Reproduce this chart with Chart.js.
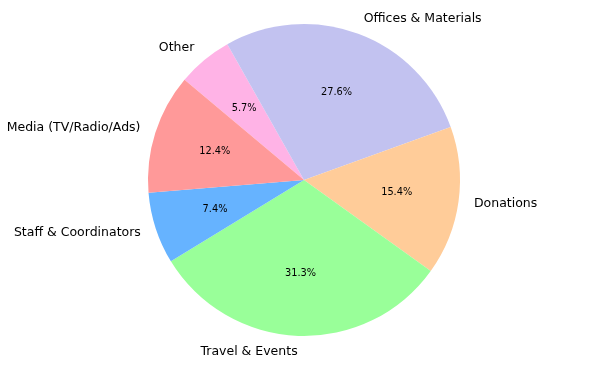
<!DOCTYPE html>
<html>
<head>
<meta charset="utf-8">
<script src="https://cdn.jsdelivr.net/npm/chart.js@4"></script>
<style>
html,body{margin:0;padding:0;background:#fff;}
#wrap{width:600px;height:365px;position:relative;}
</style>
</head>
<body>
<div id="wrap"><canvas id="c" width="600" height="365"></canvas></div>
<script>
// Data (matplotlib order, counter-clockwise from 140°)
const categories = ["Media (TV/Radio/Ads)", "Staff & Coordinators", "Travel & Events", "Donations", "Offices & Materials", "Other"];
const values = [12.4, 7.4, 31.3, 15.4, 27.6, 5.7];
const colors = ["#ff9999", "#66b3ff", "#99ff99", "#ffcc99", "#c2c2f0", "#ffb3e6"];

// Chart.js draws clockwise, so reverse the order
const cjLabels = categories.slice().reverse();
const cjValues = values.slice().reverse();
const cjColors = colors.slice().reverse();

const labelPlugin = {
  id: 'pieLabels',
  afterDatasetsDraw(chart) {
    const ctx = chart.ctx;
    const meta = chart.getDatasetMeta(0);
    meta.data.forEach((arc, i) => {
      const p = arc.getProps(['x', 'y', 'startAngle', 'endAngle', 'outerRadius'], true);
      const mid = (p.startAngle + p.endAngle) / 2;
      const cx = Math.cos(mid), cy = Math.sin(mid);
      ctx.save();
      ctx.fillStyle = '#000';
      ctx.font = '12.5px "DejaVu Sans"';
      ctx.textBaseline = 'middle';
      ctx.textAlign = cx >= 0 ? 'left' : 'right';
      ctx.fillText(cjLabels[i], p.x + cx * p.outerRadius * 1.1, p.y + cy * p.outerRadius * 1.1);
      ctx.font = '9.8px "DejaVu Sans"';
      ctx.textAlign = 'center';
      const pct = cjValues[i].toFixed(1) + '%';
      ctx.fillText(pct, p.x + cx * p.outerRadius * 0.6, p.y + cy * p.outerRadius * 0.6);
      ctx.restore();
    });
  }
};

new Chart(document.getElementById('c'), {
  type: 'pie',
  data: {
    labels: cjLabels,
    datasets: [{
      data: cjValues,
      backgroundColor: cjColors,
      borderWidth: 0
    }]
  },
  options: {
    responsive: false,
    animation: false,
    rotation: -50,
    layout: { padding: { left: 148, right: 140, top: 24, bottom: 29 } },
    plugins: {
      legend: { display: false },
      tooltip: { enabled: false }
    }
  },
  plugins: [labelPlugin]
});
</script>
</body>
</html>
